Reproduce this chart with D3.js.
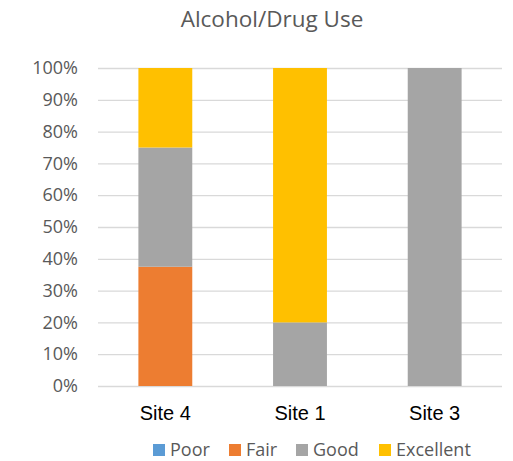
<!DOCTYPE html>
<html>
<head>
<meta charset="utf-8">
<script src="https://cdn.jsdelivr.net/npm/d3@7"></script>
<style>
  body { margin: 0; background: #fff; }
  svg { display: block; }
</style>
</head>
<body>
<script>
// Share of ratings per site (percent)
const categories = ["Site 4", "Site 1", "Site 3"];
const seriesNames = ["Poor", "Fair", "Good", "Excellent"];
const poor = [0, 0, 0];
const fair = [37.5, 0, 0];
const good = [37.5, 20, 100];
const excellent = [25, 80, 0];
const yTicks = [0, 10, 20, 30, 40, 50, 60, 70, 80, 90, 100];
const colors = ["#5B9BD5", "#ED7D31", "#A5A5A5", "#FFC000"];

const W = 513, H = 461;
const margin = { top: 68, right: 11, bottom: 75, left: 98 };
const uiFont = "'Open Sans', 'Noto Sans', sans-serif";

const svg = d3.select("body").append("svg").attr("width", W).attr("height", H);

const rows = categories.map((c, i) => ({
  site: c, Poor: poor[i], Fair: fair[i], Good: good[i], Excellent: excellent[i]
}));

const x = d3.scaleBand().domain(categories)
  .range([margin.left, W - margin.right])
  .paddingInner(0.6).paddingOuter(0.3);
const y = d3.scaleLinear().domain([0, 100]).range([H - margin.bottom, margin.top]);

// Title
svg.append("text")
  .attr("x", 272).attr("y", 27)
  .attr("text-anchor", "middle")
  .attr("font-family", uiFont)
  .attr("font-size", 22.5)
  .attr("fill", "#595959")
  .text("Alcohol/Drug Use");

// Horizontal gridlines
svg.append("g").selectAll("line").data(yTicks).join("line")
  .attr("x1", margin.left).attr("x2", W - margin.right)
  .attr("y1", d => y(d) + 0.5).attr("y2", d => y(d) + 0.5)
  .attr("stroke", "#D9D9D9").attr("stroke-width", 1.3);

// Y axis labels
const yAxis = d3.axisLeft(y).tickValues(yTicks).tickFormat(d => d + "%").tickSize(0).tickPadding(20);
const gy = svg.append("g").attr("transform", `translate(${margin.left},0)`).call(yAxis);
gy.select(".domain").remove();
gy.selectAll("text")
  .attr("font-family", uiFont)
  .attr("font-size", 18)
  .attr("fill", "#595959");

// Stacked bars
const stack = d3.stack().keys(seriesNames);
const layers = stack(rows);
svg.append("g").selectAll("g").data(layers).join("g")
  .attr("fill", (d, i) => colors[i])
  .selectAll("rect").data(d => d).join("rect")
  .attr("x", d => x(d.data.site))
  .attr("width", x.bandwidth())
  .attr("y", d => y(d[1]))
  .attr("height", d => y(d[0]) - y(d[1]));

// X axis labels
const xAxis = d3.axisBottom(x).tickSize(0).tickPadding(20);
const gx = svg.append("g").attr("transform", `translate(0,${H - margin.bottom})`).call(xAxis);
gx.select(".domain").remove();
gx.selectAll("text")
  .attr("font-family", "'Liberation Sans', Arial, sans-serif")
  .attr("font-size", 20)
  .attr("fill", "#000");

// Legend
const legendX = [153, 229, 296, 379];
const legend = svg.append("g");
seriesNames.forEach((name, i) => {
  legend.append("rect")
    .attr("x", legendX[i]).attr("y", 444)
    .attr("width", 12).attr("height", 12)
    .attr("fill", colors[i]);
  legend.append("text")
    .attr("x", legendX[i] + 17).attr("y", 456)
    .attr("font-family", uiFont)
    .attr("font-size", 18)
    .attr("fill", "#595959")
    .text(name);
});
</script>
</body>
</html>
